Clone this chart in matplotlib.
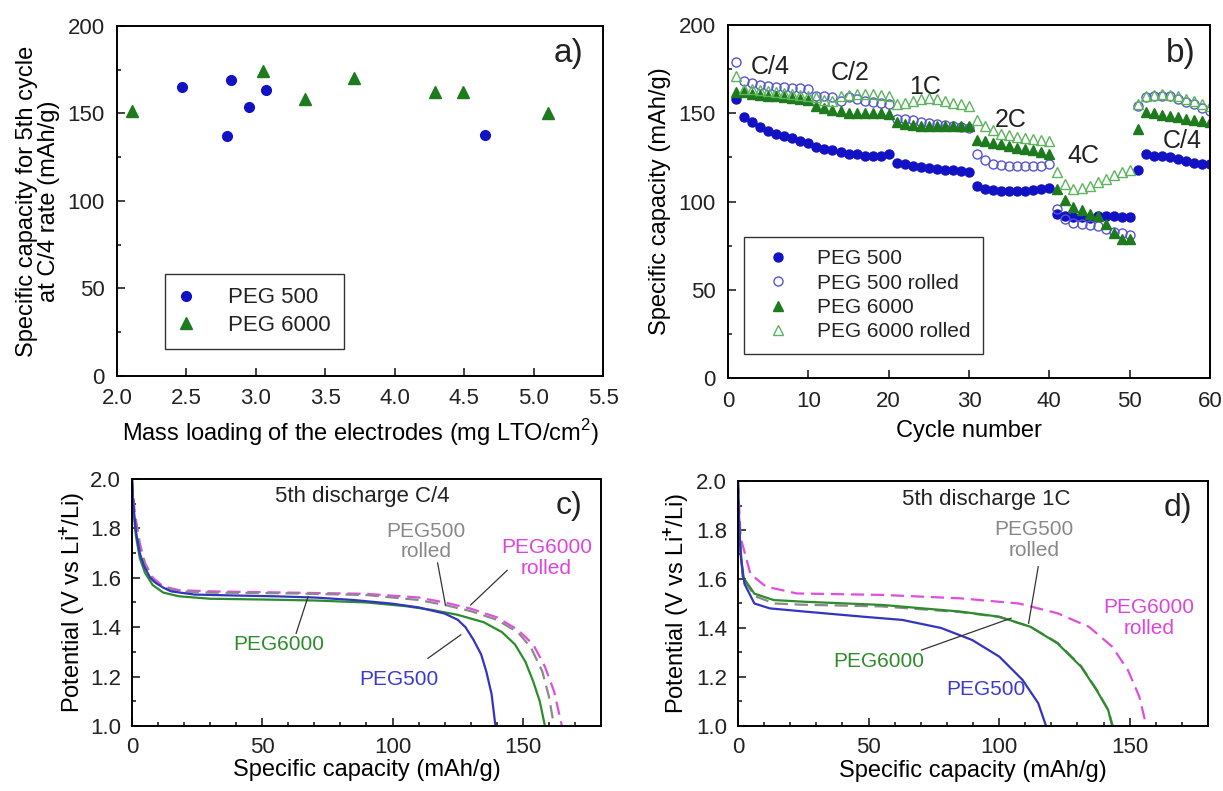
import numpy as np
import matplotlib
matplotlib.use("Agg")
import matplotlib.pyplot as plt
from matplotlib.ticker import MultipleLocator

plt.rcParams.update({
    'font.family': 'Liberation Sans',
    'mathtext.fontset': 'custom',
    'mathtext.rm': 'Liberation Sans',
    'mathtext.bf': 'Liberation Sans:bold',
    'axes.linewidth': 1.4,
    'text.color': '#222222',
    'xtick.color': '#222222',
    'ytick.color': '#222222',
})

# a) capacity at 5th cycle vs mass loading
load_peg500 = [2.47, 2.82, 2.79, 2.95, 3.07, 4.65]
cap_peg500 = [165, 169, 137, 153.5, 163.5, 137.7]
load_peg6000 = [2.11, 3.05, 3.35, 3.71, 4.29, 4.49, 5.10]
cap_peg6000 = [151.5, 174, 158.5, 170.5, 162, 162.5, 150]

# b) rate capability, cycles 1-60
cycles = np.arange(1, 61)
rate_peg500 = [158, 148, 145, 142, 140, 138, 137, 136, 134, 133,
               131, 130, 129, 128, 127, 127, 126, 125.5, 126, 127,
               122, 121, 120, 119.5, 119, 118.5, 118, 118, 117.5, 117,
               109, 107, 106.5, 106, 106, 106, 106, 106.5, 107, 107.5,
               93, 92, 91.5, 91, 90.5, 92, 92, 92, 91.5, 91,
               118, 127, 126, 125.5, 125, 124, 123, 122, 121.5, 121]
rate_peg500_rolled = [179, 168, 167, 166, 165.5, 165, 165, 164.5, 164.5, 164,
                      160, 159.5, 159, 157, 159, 158, 157, 156.5, 156, 155.5,
                      147, 146.5, 146, 145, 144.5, 144, 143.5, 143, 142, 141.5,
                      127, 123.5, 121.5, 120.5, 120, 120, 120, 120, 120, 121,
                      96, 90, 88, 87.5, 86.5, 86, 84.5, 83, 82, 81,
                      154, 159, 160, 160, 159.5, 158, 156.5, 155, 153, 151]
rate_peg6000 = [162, 162, 161, 160.5, 160, 159.5, 159, 158.5, 158, 157.5,
                154, 153, 152, 151, 150, 150, 150, 150, 150, 149.5,
                145, 144, 143.5, 143, 143, 143, 143, 143, 143, 143,
                135, 134, 133, 132.5, 131.5, 130.5, 130, 129, 128, 127,
                107, 101, 97, 95, 93, 92, 87, 82, 79, 79,
                141, 150.5, 150, 149, 148.5, 148, 147, 146, 145.5, 145]
rate_peg6000_rolled = [171, 164, 163.5, 163, 162.5, 162, 161.5, 161, 160.5, 160,
                       159, 157.5, 157, 160, 160.5, 161, 161, 161, 160.5, 160,
                       155.5, 156, 157, 158, 158.5, 158, 157, 156, 155, 154,
                       146, 143, 140.5, 138.5, 137.5, 136.5, 136, 135.5, 135, 134.5,
                       117, 110, 107, 107.5, 109, 111, 113, 115, 116.5, 118,
                       155, 160, 160.5, 161, 160.5, 159.5, 158, 157, 155.5, 154]
rate_labels = ['C/4', 'C/2', '1C', '2C', '4C', 'C/4']
rate_label_x = [5.3, 15.2, 24.5, 35.2, 44.2, 56.6]
rate_label_y = [176.4, 172.6, 164.7, 146.2, 125.5, 134]

# c) 5th discharge at C/4
c_peg500_q = [0, 0.5, 1.5, 3, 4.5, 7, 9, 12, 15, 24, 40, 55, 70, 85, 100, 110,
              120, 125, 128, 131, 134, 136, 138, 139.5]
c_peg500_v = [2.0, 1.9, 1.79, 1.70, 1.65, 1.60, 1.58, 1.56, 1.545, 1.532, 1.528,
              1.525, 1.52, 1.51, 1.495, 1.48, 1.455, 1.43, 1.40, 1.35, 1.29,
              1.22, 1.13, 1.0]
c_peg6000_q = [0, 0.5, 1.5, 3, 5, 8, 12, 18, 30, 50, 70, 90, 105, 115, 125, 135,
               142, 147, 151, 154, 156.5, 158.5]
c_peg6000_v = [2.0, 1.88, 1.77, 1.68, 1.62, 1.57, 1.54, 1.525, 1.515, 1.512,
               1.508, 1.50, 1.485, 1.47, 1.45, 1.42, 1.38, 1.33, 1.26, 1.18,
               1.10, 1.0]
c_peg500r_q = [0, 1, 3, 5, 8, 12, 18, 30, 60, 90, 110, 120, 130, 140, 148, 153,
               157.5, 160, 162]
c_peg500r_v = [2.0, 1.85, 1.72, 1.65, 1.59, 1.56, 1.545, 1.54, 1.537, 1.53,
               1.51, 1.49, 1.465, 1.43, 1.38, 1.32, 1.22, 1.12, 1.0]
c_peg6000r_q = [0, 1, 3, 5, 8, 12, 18, 30, 60, 90, 110, 120, 130, 140, 148, 154,
                158.5, 162, 165]
c_peg6000r_v = [2.0, 1.87, 1.74, 1.66, 1.60, 1.565, 1.55, 1.545, 1.54, 1.535,
                1.52, 1.50, 1.475, 1.44, 1.39, 1.33, 1.24, 1.14, 1.0]

# d) 5th discharge at 1C
d_peg500_q = [0, 0.5, 1, 2.5, 6.3, 12.2, 25.6, 48, 62.9, 77.8, 89.7, 100.1,
              109, 115, 118]
d_peg500_v = [2.0, 1.82, 1.70, 1.58, 1.50, 1.48, 1.467, 1.446, 1.433, 1.40,
              1.351, 1.283, 1.188, 1.093, 1.0]
d_peg6000_q = [0, 0.5, 1.8, 6.3, 13.7, 25.6, 55.4, 85.2, 100.1, 112, 122.4,
               131.4, 137.3, 141.8, 143.3]
d_peg6000_v = [2.0, 1.80, 1.61, 1.54, 1.514, 1.507, 1.494, 1.467, 1.446, 1.405,
               1.337, 1.242, 1.147, 1.065, 1.0]
d_peg500r_q = [0, 0.5, 2, 6.5, 14, 25, 55, 85, 100, 112, 122.4, 131.4, 137.3,
               141.8, 143.6]
d_peg500r_v = [2.0, 1.78, 1.60, 1.53, 1.50, 1.495, 1.488, 1.465, 1.445, 1.405,
               1.34, 1.245, 1.15, 1.065, 1.0]
d_peg6000r_q = [0, 1, 4.8, 10.7, 22.6, 55.4, 85.2, 107.6, 122.4, 134.4, 143.3,
                149.3, 153.7, 156.4]
d_peg6000r_v = [2.0, 1.77, 1.62, 1.569, 1.541, 1.535, 1.521, 1.50, 1.46, 1.405,
                1.324, 1.229, 1.12, 1.0]

BLUE = '#1212c4'
BLUE_OPEN = '#5555d0'
GREEN = '#1d7a1d'
GREEN_OPEN = '#5cb45c'
LINE_BLUE = '#3434c0'
LINE_GREEN = '#2c8c2c'
GRAY = '#8a8a8a'
MAGENTA = '#e04ee0'
LABEL_SIZE = 17

fig = plt.figure(figsize=(12.23, 7.91), dpi=100)
ax_a = fig.add_axes([0.0957, 0.5247, 0.3974, 0.4425])
ax_b = fig.add_axes([0.5953, 0.5221, 0.3941, 0.4463])
ax_c = fig.add_axes([0.1079, 0.0822, 0.3835, 0.3123])
ax_d = fig.add_axes([0.6034, 0.0822, 0.3843, 0.3097])


def style_ticks(ax, size, pad):
    ax.tick_params(which='both', direction='in', top=False, right=False,
                   labelsize=size, pad=pad, width=1.2)
    ax.tick_params(which='major', length=6)
    ax.tick_params(which='minor', length=3)


# a)
ax_a.plot(load_peg500, cap_peg500, 'o', color=BLUE, ms=7, label='PEG 500')
ax_a.plot(load_peg6000, cap_peg6000, '^', color=GREEN, ms=8.5, label='PEG 6000')
ax_a.set_xlim(2.0, 5.5)
ax_a.set_ylim(0, 200)
ax_a.xaxis.set_major_locator(MultipleLocator(0.5))
ax_a.yaxis.set_major_locator(MultipleLocator(50))
ax_a.yaxis.set_minor_locator(MultipleLocator(25))
ax_a.xaxis.set_major_formatter(plt.FormatStrFormatter('%.1f'))
style_ticks(ax_a, 16, 9)
ax_a.set_xlabel('Mass loading of the electrodes (mg LTO/cm$^2$)', fontsize=LABEL_SIZE)
ax_a.xaxis.set_label_coords(0.5, -0.118)
ax_a.set_ylabel('Specific capacity for 5th cycle\nat C/4 rate (mAh/g)',
                fontsize=LABEL_SIZE, linespacing=1.0)
ax_a.yaxis.set_label_coords(-0.117, 0.5)
ax_a.text(5.25, 184, 'a)', fontsize=24, ha='center', va='center')
ax_a.legend(loc='upper left', bbox_to_anchor=(165 / 1223, 1 - 274 / 791),
            bbox_transform=fig.transFigure, fontsize=16, fancybox=False,
            edgecolor='#333333', framealpha=1, borderpad=0.6, borderaxespad=0,
            handlelength=0.72, handletextpad=1.5, labelspacing=0.3,
            numpoints=1).get_frame().set_linewidth(1.0)

# b)
ax_b.plot(cycles, rate_peg500, 'o', color=BLUE, ms=6.5, label='PEG 500')
ax_b.plot(cycles, rate_peg500_rolled, 'o', color=BLUE_OPEN, mfc='none', mew=1.0,
          ms=6.5, label='PEG 500 rolled')
ax_b.plot(cycles, rate_peg6000, '^', color=GREEN, ms=7, label='PEG 6000')
ax_b.plot(cycles, rate_peg6000_rolled, '^', color=GREEN_OPEN, mfc='none',
          mew=1.0, ms=7, label='PEG 6000 rolled')
for lab, x, y in zip(rate_labels, rate_label_x, rate_label_y):
    ax_b.text(x, y, lab, fontsize=18, ha='center', va='center')
ax_b.set_xlim(0, 60)
ax_b.set_ylim(0, 200)
ax_b.xaxis.set_major_locator(MultipleLocator(10))
ax_b.yaxis.set_major_locator(MultipleLocator(50))
ax_b.yaxis.set_minor_locator(MultipleLocator(25))
style_ticks(ax_b, 16, 9)
ax_b.set_xlabel('Cycle number', fontsize=LABEL_SIZE)
ax_b.xaxis.set_label_coords(0.5, -0.12)
ax_b.set_ylabel('Specific capacity (mAh/g)', fontsize=LABEL_SIZE)
ax_b.yaxis.set_label_coords(-0.118, 0.5)
ax_b.text(56.4, 184, 'b)', fontsize=24, ha='center', va='center')
ax_b.legend(loc='upper left', bbox_to_anchor=(744 / 1223, 1 - 237 / 791),
            bbox_transform=fig.transFigure, fontsize=15, fancybox=False,
            edgecolor='#333333', framealpha=1, borderpad=0.6, borderaxespad=0,
            handlelength=2.1, handletextpad=0.8, labelspacing=0.25,
            numpoints=1).get_frame().set_linewidth(1.0)

# c) and d) discharge curves
for ax in (ax_c, ax_d):
    ax.set_xlim(0, 180)
    ax.set_ylim(1.0, 2.0)
    ax.xaxis.set_major_locator(MultipleLocator(50))
    ax.xaxis.set_minor_locator(MultipleLocator(10))
    ax.yaxis.set_major_locator(MultipleLocator(0.2))
    ax.yaxis.set_minor_locator(MultipleLocator(0.1))
    ax.yaxis.set_major_formatter(plt.FormatStrFormatter('%.1f'))
    style_ticks(ax, 16, 8)
    ax.set_xlabel('Specific capacity (mAh/g)', fontsize=LABEL_SIZE)
    ax.set_ylabel('Potential (V vs Li$^{\\mathbf{+}}$/Li)', fontsize=LABEL_SIZE)

ax_c.xaxis.set_label_coords(0.5, -0.135)
ax_c.yaxis.set_label_coords(-0.096, 0.5)
ax_d.xaxis.set_label_coords(0.5, -0.137)
ax_d.yaxis.set_label_coords(-0.1, 0.5)

ax_c.plot(c_peg6000r_q, c_peg6000r_v, '--', color=MAGENTA, lw=1.6, dashes=(6, 3))
ax_c.plot(c_peg500r_q, c_peg500r_v, '--', color=GRAY, lw=1.6, dashes=(6, 3))
ax_c.plot(c_peg6000_q, c_peg6000_v, '-', color=LINE_GREEN, lw=1.6)
ax_c.plot(c_peg500_q, c_peg500_v, '-', color=LINE_BLUE, lw=1.6)

ax_d.plot(d_peg6000r_q, d_peg6000r_v, '--', color=MAGENTA, lw=1.6, dashes=(6, 3))
ax_d.plot(d_peg500r_q, d_peg500r_v, '--', color=GRAY, lw=1.6, dashes=(6, 3))
ax_d.plot(d_peg6000_q, d_peg6000_v, '-', color=LINE_GREEN, lw=1.6)
ax_d.plot(d_peg500_q, d_peg500_v, '-', color=LINE_BLUE, lw=1.6)

ann = dict(fontsize=15, ha='center', va='center')
ax_c.text(88.4, 1.93, '5th discharge C/4', fontsize=16, ha='center', va='center')
ax_c.text(167.8, 1.89, 'c)', fontsize=23, ha='center', va='center')
ax_c.text(112.9, 1.747, 'PEG500\nrolled', color='#888888', linespacing=1.1, **ann)
ax_c.text(159, 1.68, 'PEG6000\nrolled', color='#dd44dd', linespacing=1.1, **ann)
ax_c.text(56.4, 1.33, 'PEG6000', color=LINE_GREEN, **ann)
ax_c.text(102.5, 1.19, 'PEG500', color='#3a3ad0', **ann)
for (x0, y0, x1, y1) in [(117.3, 1.66, 120.3, 1.49), (144, 1.63, 130, 1.49),
                         (63, 1.375, 67.6, 1.524), (113.6, 1.274, 126.2, 1.369)]:
    ax_c.plot([x0, x1], [y0, y1], '-', color='#333333', lw=0.9)

ax_d.text(94.9, 1.925, '5th discharge 1C', fontsize=16, ha='center', va='center')
ax_d.text(168.6, 1.888, 'd)', fontsize=23, ha='center', va='center')
ax_d.text(113.5, 1.76, 'PEG500\nrolled', color='#888888', linespacing=1.1, **ann)
ax_d.text(157.5, 1.44, 'PEG6000\nrolled', color='#dd44dd', linespacing=1.1, **ann)
ax_d.text(53.9, 1.263, 'PEG6000', color=LINE_GREEN, **ann)
ax_d.text(94.9, 1.147, 'PEG500', color='#3a3ad0', **ann)
for (x0, y0, x1, y1) in [(115, 1.65, 111.3, 1.419), (70.3, 1.31, 104.6, 1.44)]:
    ax_d.plot([x0, x1], [y0, y1], '-', color='#333333', lw=0.9)

fig.savefig('out.png', dpi=100)
